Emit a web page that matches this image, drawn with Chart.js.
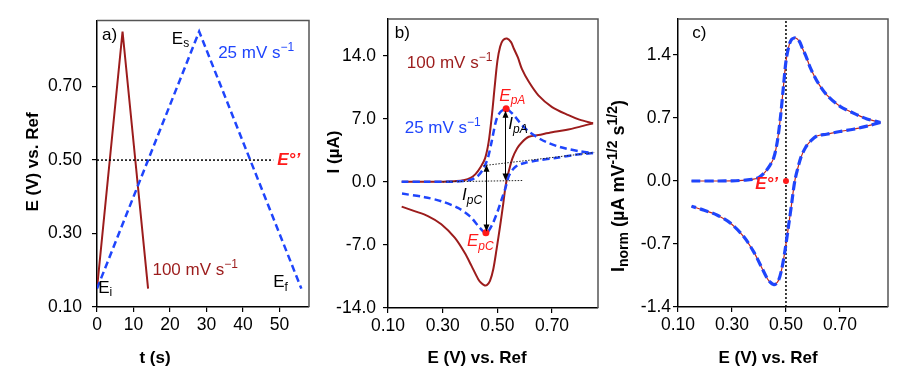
<!DOCTYPE html>
<html lang="en">
<head>
<meta charset="UTF-8">
<title>Cyclic voltammetry - scan rate comparison</title>
<script src="https://cdn.jsdelivr.net/npm/chart.js"></script>
<style>
  body { margin: 0; background: #fff; }
  #wrap { position: relative; width: 910px; height: 374px; }
  #wrap canvas { position: absolute; top: 0; }
</style>
</head>
<body>
<div id="wrap">
  <canvas id="chartA" width="312" height="374" style="left:0"></canvas>
  <canvas id="chartB" width="293" height="374" style="left:312px"></canvas>
  <canvas id="chartC" width="305" height="374" style="left:605px"></canvas>
</div>

<script>
// ---- panel a: potential programme E(t) ----
const tFast = [0, 7, 14];
const eFast = [0.15, 0.85, 0.15];
const tSlow = [0, 28, 56];
const eSlow = [0.15, 0.85, 0.15];
const tFormal = [0, 48.3];
const eFormal = [0.50, 0.50];

// ---- panel b: voltammograms (E in V, I in uA) ----
const eFastFwd = [0.15, 0.20, 0.25, 0.30, 0.35, 0.38, 0.40, 0.42, 0.44, 0.455, 0.468, 0.48, 0.49, 0.50, 0.51, 0.52, 0.535, 0.55, 0.56, 0.575, 0.59, 0.615, 0.65, 0.70, 0.76, 0.80, 0.85];
const iFastFwd = [0, 0, 0, 0.02, 0.08, 0.2, 0.4, 0.85, 1.7, 2.6, 4.4, 7.4, 10.5, 13.4, 15.0, 15.7, 15.9, 15.5, 14.8, 13.8, 12.5, 11.1, 9.6, 8.3, 7.4, 6.9, 6.5];
const eFastRev = [0.85, 0.80, 0.75, 0.70, 0.65, 0.615, 0.59, 0.572, 0.555, 0.542, 0.534, 0.528, 0.522, 0.51, 0.497, 0.485, 0.473, 0.462, 0.454, 0.442, 0.43, 0.405, 0.381, 0.344, 0.295, 0.246, 0.197, 0.15];
const iFastRev = [6.5, 6.1, 5.75, 5.5, 5.2, 5.0, 4.4, 3.7, 2.6, 1.2, 0.2, -0.9, -2.3, -4.9, -7.5, -9.7, -11.0, -11.45, -11.5, -11.25, -10.8, -9.3, -7.9, -6.2, -4.7, -3.8, -3.25, -2.75];

const eSlowFwd = [0.15, 0.25, 0.35, 0.38, 0.40, 0.42, 0.435, 0.449, 0.46, 0.468, 0.48, 0.492, 0.50, 0.511, 0.522, 0.532, 0.545, 0.56, 0.575, 0.59, 0.61, 0.633, 0.66, 0.688, 0.72, 0.75, 0.80, 0.85];
const iSlowFwd = [0, 0, 0.03, 0.1, 0.2, 0.45, 0.85, 1.47, 2.2, 2.95, 4.6, 6.4, 7.2, 7.75, 8.0, 8.1, 7.85, 7.4, 6.85, 6.3, 5.7, 5.2, 4.7, 4.3, 3.95, 3.7, 3.4, 3.2];
const eSlowRev = [0.85, 0.80, 0.774, 0.713, 0.651, 0.60, 0.575, 0.56, 0.548, 0.54, 0.533, 0.528, 0.515, 0.503, 0.485, 0.467, 0.458, 0.448, 0.43, 0.399, 0.356, 0.295, 0.234, 0.15];
const iSlowRev = [3.2, 3.05, 2.95, 2.65, 2.4, 2.1, 1.85, 1.5, 1.0, 0.5, -0.3, -0.85, -2.0, -3.1, -4.5, -5.5, -5.7, -5.5, -4.9, -3.8, -2.9, -2.15, -1.7, -1.3];

const eBaseA = [0.30, 0.596];
const iBaseA = [0, 0.15];
const eBaseC = [0.449, 0.854];
const iBaseC = [1.8, 3.25];
const ePeaks = [0.532, 0.458];
const iPeaks = [8.1, -5.65];

// ---- panel c: normalised current (uA mV^-1/2 s^1/2) ----
const eNormFwd = [0.15, 0.25, 0.30, 0.35, 0.38, 0.40, 0.42, 0.44, 0.455, 0.468, 0.48, 0.49, 0.50, 0.51, 0.52, 0.535, 0.55, 0.56, 0.575, 0.59, 0.615, 0.65, 0.70, 0.76, 0.80, 0.85];
const iNormFwd = [0, 0, 0.002, 0.01, 0.02, 0.04, 0.09, 0.17, 0.26, 0.44, 0.72, 1.03, 1.33, 1.49, 1.57, 1.59, 1.55, 1.48, 1.38, 1.26, 1.11, 0.96, 0.83, 0.74, 0.69, 0.65];
const eNormRev = [0.85, 0.80, 0.75, 0.70, 0.65, 0.615, 0.59, 0.572, 0.555, 0.542, 0.534, 0.528, 0.522, 0.51, 0.497, 0.485, 0.473, 0.462, 0.454, 0.442, 0.43, 0.405, 0.381, 0.344, 0.295, 0.246, 0.197, 0.15];
const iNormRev = [0.65, 0.61, 0.575, 0.55, 0.52, 0.50, 0.44, 0.37, 0.26, 0.12, 0.02, -0.09, -0.23, -0.49, -0.76, -0.97, -1.10, -1.145, -1.15, -1.125, -1.08, -0.93, -0.79, -0.62, -0.47, -0.38, -0.325, -0.28];
const eFormalV = [0.50, 0.50];
const iFormalV = [-1.4, 1.8];
const eFormalPt = [0.50];
const iFormalPt = [0];

// ---- tick labels ----
const aTicksX = [0, 10, 20, 30, 40, 50];
const aTicksY = [0.10, 0.30, 0.50, 0.70];
const bcTicksX = [0.10, 0.30, 0.50, 0.70];
const bTicksY = [-14, -7, 0, 7, 14];
const cTicksY = [-1.4, -0.7, 0, 0.7, 1.4];

const DARKRED = '#9c1c1c';
const BLUE = '#1f45fc';
const RED = '#ff1a1a';
const FAMILY = '"Liberation Sans", Arial, sans-serif';

Chart.defaults.font.family = FAMILY;
Chart.defaults.animation = false;
Chart.defaults.events = [];

const pts = (xs, ys) => xs.map((v, i) => ({ x: v, y: ys[i] }));

function curve(xs, ys, color, width, dash, order, tension) {
  return {
    data: pts(xs, ys), showLine: true, fill: false,
    borderColor: color, borderWidth: width, borderDash: dash || [],
    pointRadius: 0, tension: tension === undefined ? 0.3 : tension, order: order
  };
}

function dots(xs, ys, color, r, order) {
  return {
    data: pts(xs, ys), showLine: false, pointRadius: r,
    pointBackgroundColor: color, pointBorderWidth: 0, order: order
  };
}

function axis(min, max, ticks, digits, size, pad, isY) {
  return {
    type: 'linear', min: min, max: max,
    afterBuildTicks: s => { s.ticks = ticks.map(v => ({ value: v })); },
    afterFit: s => { if (isY) s.width = size; else s.height = size; },
    ticks: {
      callback: v => v.toFixed(digits), color: '#000',
      font: { size: 17.5 }, padding: pad, autoSkip: false, maxRotation: 0
    },
    grid: { display: true, drawOnChartArea: false, tickLength: 5, color: '#000', lineWidth: 1.2 },
    border: { display: true, color: '#000', width: 1.5 }
  };
}

// text with _{sub} and ^{sup} parts
function parseRich(str) {
  const out = [];
  const re = /([_^])\{([^}]*)\}|([^_^]+)/g;
  let m;
  while ((m = re.exec(str))) {
    if (m[3]) out.push({ t: m[3], k: 0 });
    else out.push({ t: m[2], k: m[1] === '_' ? 1 : -1 });
  }
  return out;
}

function drawRich(ctx, str, x, y, o) {
  const size = o.size || 17;
  const small = Math.round(size * (o.ratio || 0.7));
  const pre = (o.style || 'normal') + ' ' + (o.weight || 'normal') + ' ';
  const parts = parseRich(str).map(p => {
    const f = pre + (p.k ? small : size) + 'px ' + FAMILY;
    ctx.font = f;
    return { t: p.t, k: p.k, f: f, w: ctx.measureText(p.t).width };
  });
  const total = parts.reduce((s, p) => s + p.w, 0);
  ctx.save();
  ctx.translate(x, y);
  if (o.rotate) ctx.rotate(o.rotate);
  let cx = o.align === 'center' ? -total / 2 : 0;
  ctx.fillStyle = o.color || '#000';
  ctx.textBaseline = 'middle';
  ctx.textAlign = 'left';
  parts.forEach(p => {
    ctx.font = p.f;
    const dy = p.k === 1 ? size * 0.3 : p.k === -1 ? -size * 0.33 : 0;
    ctx.fillText(p.t, cx, dy);
    cx += p.w;
  });
  ctx.restore();
}

function notes(cfg) {
  return {
    id: 'notes',
    afterDraw(chart) {
      const ctx = chart.ctx;
      const sx = chart.scales.x, sy = chart.scales.y;
      const a = chart.chartArea;
      ctx.save();
      ctx.strokeStyle = '#555';
      ctx.lineWidth = 1.5;
      ctx.beginPath();
      ctx.moveTo(a.left, a.top);
      ctx.lineTo(a.right, a.top);
      ctx.lineTo(a.right, a.bottom);
      ctx.stroke();

      ctx.strokeStyle = '#000';
      ctx.fillStyle = '#000';
      ctx.lineWidth = 1;
      (cfg.arrows || []).forEach(ar => {
        const x = Math.round(sx.getPixelForValue(ar[0])) + 0.5;
        const y1 = sy.getPixelForValue(ar[1]);
        const y2 = sy.getPixelForValue(ar[2]);
        ctx.beginPath();
        ctx.moveTo(x, y1 + 4);
        ctx.lineTo(x, y2 - 4);
        ctx.stroke();
        ctx.beginPath();
        ctx.moveTo(x, y1); ctx.lineTo(x - 3, y1 + 7); ctx.lineTo(x + 3, y1 + 7); ctx.closePath();
        ctx.moveTo(x, y2); ctx.lineTo(x - 3, y2 - 7); ctx.lineTo(x + 3, y2 - 7); ctx.closePath();
        ctx.fill();
      });

      (cfg.labels || []).forEach(l => {
        const x = l.px ? l.px[0] : sx.getPixelForValue(l.at[0]);
        const y = l.px ? l.px[1] : sy.getPixelForValue(l.at[1]);
        drawRich(ctx, l.text, x, y, l);
      });
      ctx.restore();
    }
  };
}

const UP = -Math.PI / 2;

// ---------- a) ----------
new Chart(document.getElementById('chartA'), {
  type: 'scatter',
  data: {
    datasets: [
      curve(tFormal, eFormal, '#000', 1.5, [2, 2], 0, 0),
      curve(tFast, eFast, DARKRED, 2, [], 2, 0),
      curve(tSlow, eSlow, BLUE, 2.5, [7, 4], 1, 0)
    ]
  },
  options: {
    responsive: false,
    layout: { padding: { left: 0, right: 3, top: 19, bottom: 0 } },
    plugins: { legend: { display: false }, tooltip: { enabled: false } },
    scales: {
      x: axis(0, 58.1, aTicksX, 0, 67, 3, false),
      y: axis(0.10, 0.88, aTicksY, 2, 97, 10, true)
    }
  },
  plugins: [notes({
    labels: [
      { text: 'a)', at: [1.4, 0.84] },
      { text: 'E_{s}', at: [20.5, 0.83] },
      { text: '25 mV s^{\u22121}', at: [33.2, 0.79], color: BLUE },
      { text: 'E\u00b0\u2019', at: [49.4, 0.498], color: RED, style: 'italic', weight: 'bold' },
      { text: '100 mV s^{\u22121}', at: [15.2, 0.20], color: DARKRED },
      { text: 'E_{i}', at: [0.35, 0.152] },
      { text: 'E_{f}', at: [48.3, 0.166] },
      { text: 'E (V) vs. Ref', px: [33, 162], rotate: UP, align: 'center', weight: 'bold' },
      { text: 't (s)', px: [155, 358], align: 'center', weight: 'bold' }
    ]
  })]
});

// ---------- b) ----------
new Chart(document.getElementById('chartB'), {
  type: 'scatter',
  data: {
    datasets: [
      dots(ePeaks, iPeaks, RED, 3.5, 0),
      curve(eBaseA, iBaseA, '#222', 1, [1.5, 1.5], 1, 0),
      curve(eBaseC, iBaseC, '#222', 1, [1.5, 1.5], 1, 0),
      curve(eSlowFwd, iSlowFwd, BLUE, 2.5, [7, 4], 2),
      curve(eSlowRev, iSlowRev, BLUE, 2.5, [7, 4], 2),
      curve(eFastFwd, iFastFwd, DARKRED, 2, [], 3),
      curve(eFastRev, iFastRev, DARKRED, 2, [], 3)
    ]
  },
  options: {
    responsive: false,
    layout: { padding: { left: 0, right: 7, top: 19, bottom: 0 } },
    plugins: { legend: { display: false }, tooltip: { enabled: false } },
    scales: {
      x: axis(0.10, 0.868, bcTicksX, 2, 66, 3, false),
      y: axis(-14, 18.07, bTicksY, 1, 76, 7, true)
    }
  },
  plugins: [notes({
    arrows: [[0.527, 7.9, 0.15], [0.458, 1.9, -5.5]],
    labels: [
      { text: 'b)', at: [0.125, 16.5] },
      { text: '100 mV s^{\u22121}', at: [0.169, 13.1], color: DARKRED },
      { text: 'E_{pA}', at: [0.507, 9.55], color: RED, style: 'italic' },
      { text: '25 mV s^{\u22121}', at: [0.161, 5.9], color: BLUE },
      { text: 'I_{pA}', at: [0.540, 6.35], style: 'italic' },
      { text: 'I_{pC}', at: [0.371, -1.5], style: 'italic' },
      { text: 'E_{pC}', at: [0.389, -6.6], color: RED, style: 'italic' },
      { text: 'I (\u00b5A)', px: [22, 152], rotate: UP, align: 'center', weight: 'bold' },
      { text: 'E (V) vs. Ref', px: [165, 358], align: 'center', weight: 'bold' }
    ]
  })]
});

// ---------- c) ----------
new Chart(document.getElementById('chartC'), {
  type: 'scatter',
  data: {
    datasets: [
      dots(eFormalPt, iFormalPt, RED, 3, 0),
      curve(eNormFwd, iNormFwd, BLUE, 3.2, [9, 4], 1),
      curve(eNormRev, iNormRev, BLUE, 3.2, [9, 4], 1),
      curve(eNormFwd, iNormFwd, '#c0281e', 1.2, [], 2),
      curve(eNormRev, iNormRev, '#c0281e', 1.2, [], 2),
      curve(eFormalV, iFormalV, '#000', 1.5, [2, 2], 3, 0)
    ]
  },
  options: {
    responsive: false,
    layout: { padding: { left: 0, right: 22, top: 19, bottom: 0 } },
    plugins: { legend: { display: false }, tooltip: { enabled: false } },
    scales: {
      x: axis(0.10, 0.878, bcTicksX, 2, 67, 3, false),
      y: axis(-1.4, 1.8, cTicksY, 1, 73, 2, true)
    }
  },
  plugins: [notes({
    labels: [
      { text: 'c)', at: [0.153, 1.645] },
      { text: 'E\u00b0\u2019', at: [0.386, -0.036], color: RED, style: 'italic', weight: 'bold' },
      { text: 'I_{norm} (\u00b5A mV^{-1/2} s^{1/2})', px: [14, 186], rotate: UP, align: 'center', weight: 'bold', size: 18, ratio: 0.8 },
      { text: 'E (V) vs. Ref', px: [163, 358], align: 'center', weight: 'bold' }
    ]
  })]
});
</script>
</body>
</html>
